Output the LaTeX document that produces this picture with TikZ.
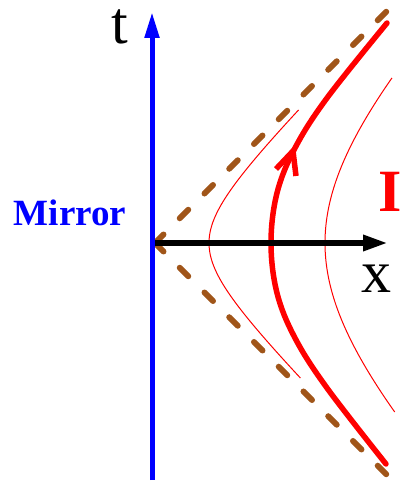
\documentclass[tikz,border=0pt]{standalone}
\usepackage{fontspec}
\setmainfont{Liberation Serif}
\usetikzlibrary{arrows.meta}
\definecolor{conebrown}{RGB}{160,85,25}
\begin{document}
\begin{tikzpicture}[x=1pt,y=-1pt,
  lightcone/.style={draw=conebrown, line width=6pt, line cap=round, dash pattern=on 12pt off 23pt},
  thinworld/.style={draw=red, line width=1pt},
  thickworld/.style={draw=red, line width=5.5pt, line cap=round, line join=round},
  axislab/.style={anchor=base, inner sep=0pt, font=\fontsize{60}{60}\selectfont}]
\useasboundingbox (0,0) rectangle (402,484);
\coordinate (O) at (155,243);
\coordinate (coneTop) at (388,10);
\coordinate (coneBot) at (388,476);
% light cone
\draw[lightcone] (O) -- (coneTop);
\draw[lightcone] (O) -- (coneBot);
% thin hyperbolas
\draw[thinworld] plot[domain=-135:133, samples=80, variable=\t]
  ({155+100*sqrt(0.54*0.54+(\t/100)*(\t/100))}, {243-\t});
\draw[thinworld] plot[domain=-169:165, samples=80, variable=\t]
  ({155+100*sqrt(1.70*1.70+(\t/100)*(\t/100))}, {243-\t});
% thick world line
\draw[thickworld] plot[smooth, tension=0.6] coordinates
  {(387,23) (327,98) (295,148) (277,193) (271,243) (277,293) (295,338) (327,388) (386,464)};
\coordinate (arrTip) at (293,151);
\draw[thickworld, line cap=butt, line join=miter] (276,169) -- (arrTip) -- (296,176);
% axes
\draw[blue, line width=5pt, -{Triangle[length=26pt,width=14pt]}] (152,480) -- (152,12);
\draw[black, line width=6pt, -{Triangle[length=25pt,width=15pt]}] (155,243) -- (388,243);
% labels
\node[axislab, text height=36pt, text depth=0pt] (tlab) at (120,44) {t};
\node[axislab] (xlab) at (376,292) {x};
\node[anchor=base, inner sep=0pt, text=blue, font=\bfseries\fontsize{37}{37}\selectfont] (mirror) at (70,225) {Mirror};
\node[anchor=base, inner sep=0pt, text=red, font=\bfseries\fontsize{60}{60}\selectfont] (ilab) at (390,211) {I};
\end{tikzpicture}
\end{document}
